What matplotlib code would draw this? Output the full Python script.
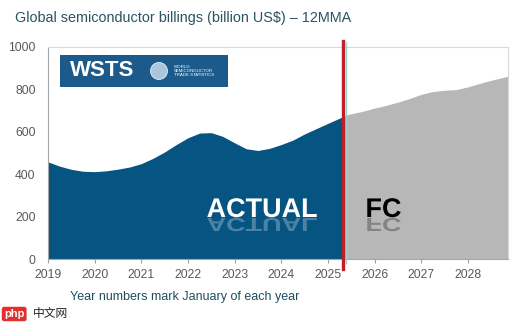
import matplotlib.pyplot as plt
from matplotlib.patches import Rectangle, Ellipse, PathPatch
from matplotlib.textpath import TextPath
from matplotlib.font_manager import FontProperties
from matplotlib.transforms import Affine2D

plt.rcParams['font.family'] = ['Liberation Sans', 'DejaVu Sans']

# actual 12MMA billings (billion US$)
act_x = [2019.0, 2019.25, 2019.5, 2019.75, 2020.0, 2020.25, 2020.5, 2020.75,
         2021.0, 2021.25, 2021.5, 2021.75, 2022.0, 2022.25, 2022.5, 2022.75,
         2023.0, 2023.25, 2023.5, 2023.75, 2024.0, 2024.25, 2024.5, 2024.75,
         2025.0, 2025.33]
act_y = [458, 438, 423, 414, 412, 416, 424, 434,
         450, 475, 505, 540, 572, 594, 596, 578,
         548, 520, 512, 522, 540, 561, 590, 615,
         640, 672]

# forecast
fc_x = [2025.33, 2025.5, 2025.75, 2026.0, 2026.25, 2026.5, 2026.75, 2027.0,
        2027.25, 2027.5, 2027.75, 2028.0, 2028.25, 2028.5, 2028.86]
fc_y = [676, 685, 697, 712, 725, 740, 757, 777,
        790, 796, 799, 812, 828, 843, 862]

years = list(range(2019, 2029))
yticks = [0, 200, 400, 600, 800, 1000]
split = 2025.33

blue = '#065482'
grey = '#b7b7b7'

fig = plt.figure(figsize=(5.3, 3.23), dpi=100)
ax = fig.add_axes([0.0906, 0.198, 0.8679, 0.6565])

ax.fill_between(act_x, act_y, 0, color=blue, lw=0)
ax.fill_between(fc_x, fc_y, 0, color=grey, lw=0)

ax.set_xlim(2019, 2028.86)
ax.set_ylim(0, 1000)
ax.set_xticks(years)
ax.set_xticklabels([str(y) for y in years])
ax.set_yticks(yticks)
ax.tick_params(axis='x', length=3, color='#a0a0a0', labelsize=8.7, labelcolor='#595959', pad=4)
ax.tick_params(axis='y', length=0, labelsize=8.7, labelcolor='#595959', pad=9)
for s in ['top', 'right']:
    ax.spines[s].set_color('#d9d9d9')
for s in ['left', 'bottom']:
    ax.spines[s].set_color('#a6a6a6')

# split line
ax.plot([split + 0.06, split + 0.06], [-20, 1025], color='#9fd3d0', lw=1, clip_on=False, zorder=4)
ax.plot([split, split], [-45, 1030], color='#c0202a', lw=2.4, clip_on=False, zorder=5)


# ACTUAL / FC labels with a faded reflection (pixel coordinates)
def label(txt, xc, yb, color):
    fp = FontProperties(family='Liberation Sans', weight='bold')
    tp = TextPath((0, 0), txt, size=27, prop=fp)
    bb = tp.get_extents()
    base = Affine2D().translate(-bb.width / 2 - bb.x0, 0)
    t1 = base + Affine2D().translate(xc, yb)
    t2 = base + Affine2D().scale(1, -0.7).translate(xc, yb - 1)
    fig.patches.append(PathPatch(t1.transform_path(tp), fc=color, ec='none',
                                 transform=None, figure=fig, zorder=6))
    fig.patches.append(PathPatch(t2.transform_path(tp), fc=color, ec='none', alpha=0.28,
                                 transform=None, figure=fig, zorder=6))


label('ACTUAL', 262, 323 - 217, 'white')
label('FC', 384, 323 - 217, 'black')

# WSTS logo
lx, ly, lw_, lh = 60 / 530, 1 - 87 / 323, 168 / 530, 32 / 323
fig.patches.append(Rectangle((lx, ly), lw_, lh, transform=fig.transFigure,
                             fc='#1b5a8a', ec='none', zorder=6))
fig.text(70 / 530, ly + lh / 2, 'WSTS', color='white', fontsize=16, fontweight='bold',
         va='center', ha='left', zorder=7)
fig.patches.append(Ellipse((159 / 530, 1 - 71 / 323), 17 / 530, 17 / 323, transform=fig.transFigure,
                           fc='#a9c7dc', ec='white', lw=0.5, zorder=7))
fig.text(174 / 530, 1 - 71 / 323, 'WORLD\nSEMICONDUCTOR\nTRADE STATISTICS', color='white',
         fontsize=3.2, va='center', ha='left', linespacing=1.1, zorder=7)

fig.text(15 / 530, 1 - 18 / 323, 'Global semiconductor billings (billion US$) \u2013 12MMA',
         fontsize=10.4, color='#2b5462', va='center', ha='left')
fig.text(70 / 530, 1 - 297 / 323, 'Year numbers mark January of each year',
         fontsize=9, color='#1f4e5f', va='center', ha='left')

# watermark
fig.text(4 / 530, 1 - 314 / 323, 'php', fontsize=8, color='white', fontweight='bold', va='center',
         bbox=dict(boxstyle='round,pad=0.2', fc='#e0312f', ec='none'))
fig.text(33 / 530, 1 - 314 / 323, '中文网', fontsize=8.5, color='#222222', va='center',
         family=['Noto Sans CJK SC', 'DejaVu Sans'])

fig.savefig('out.png', dpi=100)
